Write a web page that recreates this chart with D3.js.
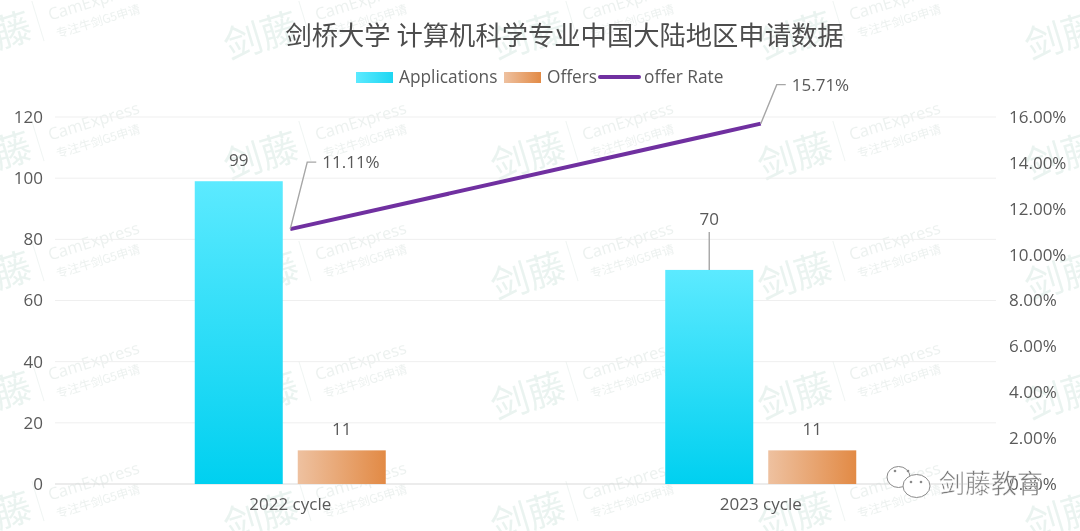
<!DOCTYPE html>
<html>
<head>
<meta charset="utf-8">
<script src="https://cdn.jsdelivr.net/npm/d3@7"></script>
<style>
  html, body { margin: 0; padding: 0; background: #fff; }
  svg { display: block; }
  text { font-family: "Open Sans", "Noto Sans CJK SC", sans-serif; }
  .cjk { font-family: "Noto Sans CJK SC", sans-serif; }
</style>
</head>
<body>
<svg id="chart" width="1080" height="531"></svg>
<script>
var title = "剑桥大学 计算机科学专业中国大陆地区申请数据";
var cycles = ["2022 cycle", "2023 cycle"];
var applications = [99, 70];
var offers = [11, 11];
var offerRate = [11.11, 15.71];
var leftTicks = [0, 20, 40, 60, 80, 100, 120];
var rightTicks = [0, 2, 4, 6, 8, 10, 12, 14, 16];

var INK = "#595959";
var svg = d3.select("#chart");
var M = { t: 117, r: 84, b: 47, l: 55 };
var W = 1080, H = 531;

var x = d3.scaleBand().domain(cycles).range([M.l, W - M.r]);
var yL = d3.scaleLinear().domain([0, 120]).range([H - M.b, M.t]);
var yR = d3.scaleLinear().domain([0, 16]).range([H - M.b, M.t]);
var barW = 88, barGap = 15;

var defs = svg.append("defs");
var g1 = defs.append("linearGradient").attr("id", "gradApp")
  .attr("x1", 0).attr("y1", 0).attr("x2", 0).attr("y2", 1);
g1.append("stop").attr("offset", "0%").attr("stop-color", "#5ceaff");
g1.append("stop").attr("offset", "100%").attr("stop-color", "#00d0f0");
var g2 = defs.append("linearGradient").attr("id", "gradOffer");
g2.append("stop").attr("offset", "0%").attr("stop-color", "#eec1a0");
g2.append("stop").attr("offset", "100%").attr("stop-color", "#e28a45");
var g3 = defs.append("linearGradient").attr("id", "gradLegApp");
g3.append("stop").attr("offset", "0%").attr("stop-color", "#5ceaff");
g3.append("stop").attr("offset", "100%").attr("stop-color", "#1ed6f2");

// watermark tiles, behind everything
var wm = svg.append("g").attr("opacity", 0.6);
d3.range(0, 5).forEach(function (c) {
  d3.range(0, 5).forEach(function (r) {
    var tx = -38 + c * 267, ty = 60 + r * 120;
    var t = wm.append("g").attr("transform", "translate(" + tx + "," + ty + ") rotate(-17)");
    t.append("text").attr("class", "cjk").attr("y", 0).style("font-size", "38px")
      .attr("fill", "#dcece6").text("剑藤");
    t.append("line").attr("x1", 84).attr("x2", 84).attr("y1", -36).attr("y2", 6)
      .attr("stroke", "#e6eeeb").attr("stroke-width", 1);
    t.append("text").attr("x", 96).attr("y", -12).style("font-size", "16.5px")
      .attr("fill", "#e0e8e5").text("CamExpress");
    t.append("text").attr("class", "cjk").attr("x", 98).attr("y", 7).style("font-size", "12px")
      .attr("fill", "#e0e8e5").text("专注牛剑G5申请");
  });
});

// gridlines
var grid = svg.append("g");
leftTicks.forEach(function (t) {
  grid.append("line").attr("x1", M.l).attr("x2", W - M.r)
    .attr("y1", yL(t)).attr("y2", yL(t))
    .attr("stroke", t === 0 ? "#d9d9d9" : "#efefef").attr("stroke-width", 1);
});

// axes: labels only, domain and tick marks removed
var axL = d3.axisLeft(yL).tickValues(leftTicks).tickSize(0).tickPadding(12);
var gL = svg.append("g").attr("transform", "translate(" + M.l + ",0)").call(axL);
var axR = d3.axisRight(yR).tickValues(rightTicks).tickSize(0).tickPadding(13)
  .tickFormat(function (d) { return d.toFixed(2) + "%"; });
var gR = svg.append("g").attr("transform", "translate(" + (W - M.r) + ",0)").call(axR);
var axB = d3.axisBottom(x).tickSize(0).tickPadding(14);
var gB = svg.append("g").attr("transform", "translate(0," + (H - M.b) + ")").call(axB);
[gL, gR, gB].forEach(function (g) {
  g.select(".domain").remove();
  g.selectAll("text").style("font-size", "17px").attr("fill", INK)
    .style("font-family", '"Open Sans", sans-serif');
});

// bars
function cx(i) { return x(cycles[i]) + x.bandwidth() / 2; }
var appX = function (i) { return cx(i) - barGap / 2 - barW; };
var offX = function (i) { return cx(i) + barGap / 2; };

svg.append("g").selectAll("rect").data(applications).join("rect")
  .attr("x", function (d, i) { return appX(i); })
  .attr("y", function (d) { return yL(d); })
  .attr("width", barW)
  .attr("height", function (d) { return yL(0) - yL(d); })
  .attr("fill", "url(#gradApp)");
svg.append("g").selectAll("rect").data(offers).join("rect")
  .attr("x", function (d, i) { return offX(i); })
  .attr("y", function (d) { return yL(d); })
  .attr("width", barW)
  .attr("height", function (d) { return yL(0) - yL(d); })
  .attr("fill", "url(#gradOffer)");

// line
var line = d3.line().x(function (d, i) { return cx(i); }).y(function (d) { return yR(d); });
svg.append("path").attr("d", line(offerRate)).attr("fill", "none")
  .attr("stroke", "#7030a0").attr("stroke-width", 4);

// data labels
var labelStyle = function (sel) {
  sel.style("font-size", "17px").attr("fill", INK);
};
var legendStyle = function (sel) {
  sel.style("font-size", "17.3px").attr("fill", INK);
};
applications.forEach(function (v, i) {
  var bx = appX(i) + barW / 2;
  if (i === 1) {
    svg.append("line").attr("x1", bx).attr("x2", bx)
      .attr("y1", yL(v)).attr("y2", yL(v) - 38)
      .attr("stroke", "#a6a6a6").attr("stroke-width", 1.4);
  }
  svg.append("text").attr("x", bx).attr("y", i === 1 ? yL(v) - 45 : yL(v) - 15)
    .attr("text-anchor", "middle").text(v).call(labelStyle);
});
offers.forEach(function (v, i) {
  svg.append("text").attr("x", offX(i) + barW / 2).attr("y", yL(v) - 15)
    .attr("text-anchor", "middle").text(v).call(labelStyle);
});
offerRate.forEach(function (v, i) {
  var px = cx(i), py = yR(v);
  var dx = i === 0 ? 17 : 16, dy = i === 0 ? -67 : -39;
  svg.append("path")
    .attr("d", d3.line()([[px, py], [px + dx, py + dy], [px + dx + 9, py + dy]]))
    .attr("fill", "none").attr("stroke", "#a6a6a6").attr("stroke-width", 1.4);
  svg.append("text").attr("x", px + dx + 15).attr("y", py + dy + 6)
    .text(v.toFixed(2) + "%").call(labelStyle);
});

// title
svg.append("text").attr("class", "cjk").attr("x", 564.5).attr("y", 45).attr("text-anchor", "middle")
  .style("font-size", "26.3px").attr("fill", "#4d4d4d").text(title);

// legend
var lg = svg.append("g");
lg.append("rect").attr("x", 356).attr("y", 72).attr("width", 37).attr("height", 11).attr("fill", "url(#gradLegApp)");
lg.append("text").attr("x", 399).attr("y", 83).text("Applications").call(legendStyle);
lg.append("rect").attr("x", 504).attr("y", 72).attr("width", 37).attr("height", 11).attr("fill", "url(#gradOffer)");
lg.append("text").attr("x", 547).attr("y", 83).text("Offers").call(legendStyle);
lg.append("line").attr("x1", 600).attr("x2", 639).attr("y1", 77).attr("y2", 77)
  .attr("stroke", "#7030a0").attr("stroke-width", 4).attr("stroke-linecap", "round");
lg.append("text").attr("x", 644).attr("y", 83).text("offer Rate").call(legendStyle);

// wechat badge
var wx = svg.append("g").attr("fill", "#fff").attr("stroke", "#8a8a8a").attr("stroke-width", 1);
wx.append("ellipse").attr("cx", 898.5).attr("cy", 477).attr("rx", 11.5).attr("ry", 10.5);
wx.append("ellipse").attr("cx", 916.5).attr("cy", 486).attr("rx", 13.5).attr("ry", 11.5);
[[895, 471], [908, 471], [911, 482], [921, 482]].forEach(function (p) {
  svg.append("circle").attr("cx", p[0]).attr("cy", p[1]).attr("r", 1.3).attr("fill", "#8a8a8a");
});
svg.append("text").attr("class", "cjk").attr("x", 939).attr("y", 493).style("font-size", "26px")
  .attr("fill", "#7a7a7a").attr("stroke", "#fff").attr("stroke-width", 0.5)
  .text("剑藤教育");
</script>
</body>
</html>
